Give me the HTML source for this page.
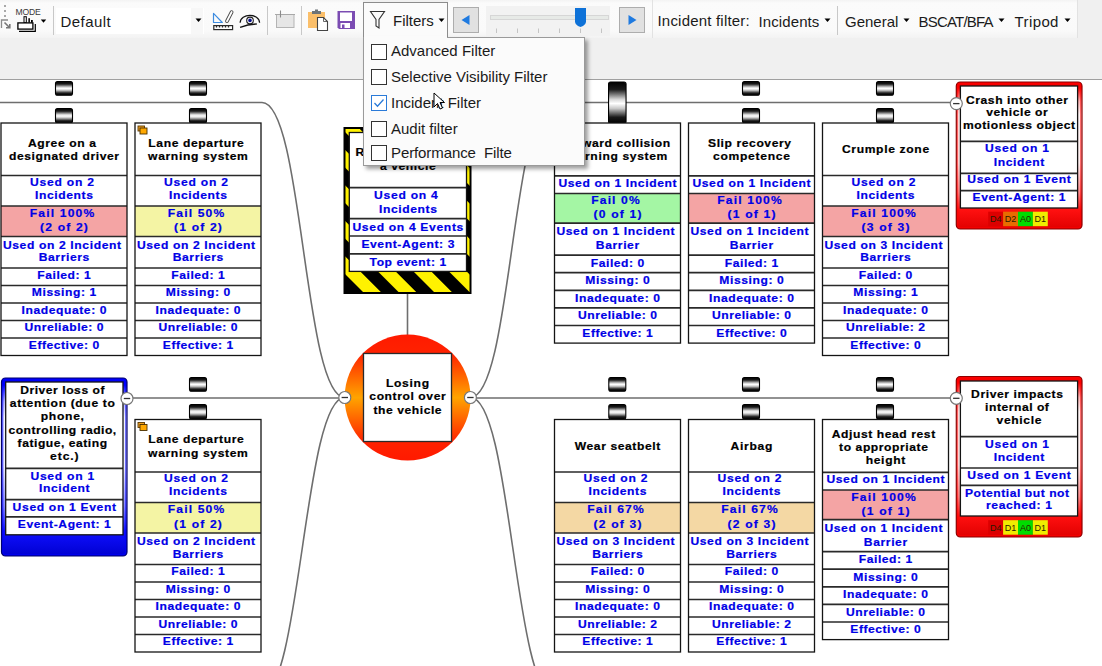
<!DOCTYPE html>
<html><head><meta charset="utf-8"><style>
html,body{margin:0;padding:0;width:1102px;height:666px;overflow:hidden;background:#fff;font-family:"Liberation Sans",sans-serif}
#tb{position:absolute;left:0;top:0;width:1102px;height:80px;background:#f0f0f0;border-bottom:1px solid #a0a0a0;box-sizing:border-box}
.abs{position:absolute}
.t15{font-size:15px;color:#1a1a1a;white-space:nowrap;line-height:17px}
.strip{position:absolute;top:0;height:38px;background:linear-gradient(#f3f3f3 0px,#fbfbfb 3px,#fafafa 30px,#f3f3f3 38px)}
.cb{position:absolute;left:371px;width:16px;height:16px;box-sizing:border-box;border:1px solid #333;background:#fff}
</style></head><body>

<div id="tb">
 <div class="strip" style="left:0;width:363px"></div>
 <div class="strip" style="left:448px;width:204px"></div>
 <div class="strip" style="left:652px;width:424px;border-left:1px solid #e2e2e2;border-right:1px solid #e2e2e2"></div>
 <!-- grip -->
 <div class="abs" style="left:4px;top:4.5px;width:2px;height:2px;background:#a8a8a8"></div>
 <div class="abs" style="left:4px;top:9.5px;width:2px;height:2px;background:#a8a8a8"></div>
 <div class="abs" style="left:4px;top:14.5px;width:2px;height:2px;background:#a8a8a8"></div>
 <svg class="abs" style="left:0;top:18px" width="12" height="12"><path d="M1.5,10 V2 H8" fill="none" stroke="#8a8a8a" stroke-width="1.3"/><path d="M4.5,4.5 L9.5,9.5 M6,9.8 H9.8 V6" fill="none" stroke="#777" stroke-width="1.6"/></svg>
 <div class="abs" style="left:15.5px;top:5.7px;font-size:8.6px;line-height:10px;color:#383838;letter-spacing:-0.15px;transform:scaleY(1.12);transform-origin:0 0">MODE</div>
 <svg class="abs" style="left:0;top:0" width="52" height="38">
  <rect x="24" y="16.7" width="2.3" height="6" fill="#fff" stroke="#000" stroke-width="1"/>
  <rect x="28.4" y="18.2" width="1.5" height="4.5" fill="#000"/>
  <rect x="31" y="20" width="1.8" height="2.7" fill="#000"/>
  <path d="M35.3,24 V31.3 H19" fill="none" stroke="#000" stroke-width="1.2"/>
  <rect x="17.9" y="22.9" width="15" height="6.2" fill="#fff" stroke="#000" stroke-width="1.3"/>
  <path d="M40.8,19.5 L46.2,19.5 L43.5,22.7 Z" fill="#000"/>
 </svg>
 <div class="abs" style="left:53px;top:6px;width:1px;height:29px;background:#c8c8c8"></div>
 <!-- combo -->
 <div class="abs" style="left:55.5px;top:7.5px;width:148px;height:26px;background:#fff"></div>
 <div class="abs" style="left:191px;top:7.5px;width:12px;height:26px;background:#f7f7f7"></div>
 <div class="abs t15" style="left:60.5px;top:12.5px;letter-spacing:0.45px">Default</div>
 <svg class="abs" style="left:195px;top:18px" width="8" height="5"><path d="M0.5,0.5 H6.5 L3.5,4 Z" fill="#000"/></svg>
 <!-- ruler/triangle -->
 <svg class="abs" style="left:210px;top:8px" width="26" height="24">
  <path d="M3.5,5.4 V14.5 H12.3 Z" fill="none" stroke="#3d8ce0" stroke-width="1.2" stroke-linejoin="round"/>
  <rect x="-6.5" y="-1.4" width="13" height="2.8" rx="1.4" transform="translate(19.3,8.6) rotate(-62.9)" fill="#fff" stroke="#4a4a4a" stroke-width="0.9"/>
  <rect x="3.8" y="17.6" width="18.8" height="4" fill="#fff" stroke="#2a2a2a" stroke-width="1.2"/>
  <path d="M6.5,17.6 V19.6 M9.5,17.6 V19.6 M12.5,17.6 V19.6 M15.5,17.6 V19.6 M18.5,17.6 V19.6" stroke="#2a2a2a" stroke-width="1.3"/>
 </svg>
 <!-- eye -->
 <svg class="abs" style="left:238px;top:10px" width="24" height="20">
  <path d="M2.1,12.8 C2.5,3 21.2,3 21.6,12.8" fill="none" stroke="#111" stroke-width="1.2"/>
  <circle cx="12" cy="10.4" r="3.3" fill="#fff" stroke="#1a1a1a" stroke-width="1.1"/>
  <circle cx="12" cy="10.4" r="1.8" fill="#0a1088"/>
  <path d="M2.1,17.3 Q10,14.2 18.8,14" fill="none" stroke="#111" stroke-width="1.3"/>
 </svg>
 <div class="abs" style="left:267px;top:5.5px;width:1px;height:29px;background:#c8c8c8"></div>
 <!-- disabled icon -->
 <svg class="abs" style="left:274px;top:9px" width="24" height="22">
  <rect x="2.5" y="5.5" width="17.5" height="13" fill="#e6e6e6" stroke="#b4b4b4" stroke-width="1"/>
  <path d="M1,5.5 H21" stroke="#a8a8a8" stroke-width="1"/><path d="M6.5,1.5 V8.5" stroke="#8a8a8a" stroke-width="1.1"/>
 </svg>
 <div class="abs" style="left:301px;top:5.5px;width:1px;height:29px;background:#c8c8c8"></div>
 <!-- clipboard -->
 <svg class="abs" style="left:306px;top:8px" width="26" height="24">
  <rect x="2" y="4" width="17" height="16" fill="#fbbf6a"/>
  <rect x="6" y="3" width="9" height="3" fill="#6e7478"/>
  <rect x="9" y="1.5" width="3" height="2" fill="#6e7478"/>
  <path d="M11.5,9.5 H17.5 L21.5,13.5 V22.5 H11.5 Z" fill="#fff" stroke="#444" stroke-width="1.1"/>
  <path d="M17.5,9.5 V13.5 H21.5" fill="none" stroke="#444" stroke-width="0.8"/>
 </svg>
 <!-- floppy -->
 <svg class="abs" style="left:336px;top:10px" width="20" height="20">
  <path d="M1.5,1 H19 V19 H3 L1.5,17.5 Z" fill="#7b4cb2"/>
  <rect x="4" y="2.5" width="12" height="8.5" fill="#fff"/>
  <rect x="4.5" y="13" width="9.5" height="5" fill="#fff"/>
  <rect x="6" y="14.5" width="2.5" height="3.5" fill="#7b4cb2"/>
 </svg>
 <!-- filters button -->
 <div class="abs" style="left:363px;top:2px;width:83px;height:40px;background:#fbfbfb;border:1px solid #8c8c8c;border-bottom:none"></div>
 <svg class="abs" style="left:369px;top:10px" width="18" height="20">
  <path d="M1.5,1.5 H15.5 L10,9.5 V18 L7,16 V9.5 Z" fill="none" stroke="#333" stroke-width="1.1"/>
 </svg>
 <div class="abs t15" style="left:393px;top:11.5px">Filters</div>
 <svg class="abs" style="left:438px;top:18px" width="8" height="5"><path d="M0.5,0.5 H6.5 L3.5,4 Z" fill="#000"/></svg>
 <!-- slider -->
 <div class="abs" style="left:453px;top:7px;width:24px;height:24px;background:#e1e1e1;border:1px solid #adadad"></div>
 <svg class="abs" style="left:460px;top:14px" width="12" height="12"><path d="M9.5,1 V11 L1.5,6 Z" fill="#1f7ae0"/></svg>
 <div class="abs" style="left:619px;top:7px;width:24px;height:24px;background:#e1e1e1;border:1px solid #adadad"></div>
 <svg class="abs" style="left:627px;top:14px" width="12" height="12"><path d="M1.5,1 V11 L9.5,6 Z" fill="#1f7ae0"/></svg>
 <div class="abs" style="left:486px;top:6px;width:124px;height:30px;background:#f2f2f2"></div>
 <div class="abs" style="left:489.5px;top:15px;width:117px;height:3px;background:#e7eae7;border:1px solid #d6d6d6"></div>
 <svg class="abs" style="left:490px;top:6px" width="120" height="30">
  <path d="M6.5,22.5 V27 M27.5,22.5 V27 M48.5,22.5 V27 M69.5,22.5 V27 M90.5,22.5 V27 M111.5,22.5 V27" stroke="#c4c4c4" stroke-width="1"/>
  <path d="M85,2 H96 V16 Q96,18 93,20 L90.5,21 L88,20 Q85,18 85,16 Z" fill="#0e72d8"/>
 </svg>
 <!-- right strip texts -->
 <div class="abs t15" style="left:657.5px;top:12px;letter-spacing:0.2px">Incident filter:</div>
 <div class="abs t15" style="left:758.5px;top:12.5px;letter-spacing:0.1px">Incidents</div>
 <svg class="abs" style="left:824px;top:18px" width="8" height="5"><path d="M0.5,0.5 H6.5 L3.5,4 Z" fill="#000"/></svg>
 <div class="abs" style="left:837px;top:6px;width:1px;height:29px;background:#c8c8c8"></div>
 <div class="abs t15" style="left:845px;top:12.5px">General</div>
 <svg class="abs" style="left:903px;top:18px" width="8" height="5"><path d="M0.5,0.5 H6.5 L3.5,4 Z" fill="#000"/></svg>
 <div class="abs t15" style="left:918.5px;top:12.5px;letter-spacing:-0.8px">BSCAT/BFA</div>
 <svg class="abs" style="left:998px;top:18px" width="8" height="5"><path d="M0.5,0.5 H6.5 L3.5,4 Z" fill="#000"/></svg>
 <div class="abs t15" style="left:1014.5px;top:12.5px;letter-spacing:0.4px">Tripod</div>
 <svg class="abs" style="left:1064px;top:18px" width="8" height="5"><path d="M0.5,0.5 H6.5 L3.5,4 Z" fill="#000"/></svg>
</div>

<svg width="1102" height="587" viewBox="0 79 1102 587" style="position:absolute;left:0;top:79px;font-family:'Liberation Sans',sans-serif">
<defs>
 <linearGradient id="knob" x1="0" y1="0" x2="0" y2="1">
  <stop offset="0" stop-color="#000"/><stop offset="0.18" stop-color="#1a1a1a"/><stop offset="0.42" stop-color="#d8d8d8"/><stop offset="0.52" stop-color="#fff"/><stop offset="0.64" stop-color="#c8c8c8"/><stop offset="0.85" stop-color="#1a1a1a"/><stop offset="1" stop-color="#000"/>
 </linearGradient>
 <linearGradient id="gte" x1="0" y1="0" x2="0" y2="1">
  <stop offset="0" stop-color="#ff1a00"/><stop offset="0.15" stop-color="#ff2200"/><stop offset="0.5" stop-color="#ffa400"/><stop offset="0.85" stop-color="#ff2200"/><stop offset="1" stop-color="#ff1a00"/>
 </linearGradient>
 <linearGradient id="gred" x1="0" y1="0" x2="0" y2="1">
  <stop offset="0" stop-color="#f00000"/><stop offset="0.04" stop-color="#ff0000"/><stop offset="0.13" stop-color="#ffb0b0"/><stop offset="0.22" stop-color="#fff4f4"/><stop offset="0.55" stop-color="#ffeeee"/><stop offset="0.75" stop-color="#ff8888"/><stop offset="0.87" stop-color="#ff1010"/><stop offset="1" stop-color="#e00000"/>
 </linearGradient>
 <linearGradient id="gblue" x1="0" y1="0" x2="0" y2="1">
  <stop offset="0" stop-color="#0000f0"/><stop offset="0.04" stop-color="#0000ff"/><stop offset="0.13" stop-color="#b0b0ff"/><stop offset="0.22" stop-color="#f4f4ff"/><stop offset="0.5" stop-color="#eeeeff"/><stop offset="0.72" stop-color="#8888ff"/><stop offset="0.86" stop-color="#1010ff"/><stop offset="1" stop-color="#0000d0"/>
 </linearGradient>
 <pattern id="stripes" patternUnits="userSpaceOnUse" width="25.1" height="25.1" patternTransform="translate(17.75,0) rotate(-45)">
  <rect width="25.1" height="25.1" fill="#fff200"/><rect width="12.55" height="25.1" fill="#000"/>
 </pattern>
</defs>
<path d="M0,102.5 H262" stroke="#6e6e6e" stroke-width="1.6" fill="none"/>
<path d="M262,102.5 C303,102.5 303.8,397.5 344.8,397.5" fill="none" stroke="#6e6e6e" stroke-width="1.6"/>
<path d="M127,398 H344.8" stroke="#6e6e6e" stroke-width="1.6" fill="none"/>
<path d="M344.8,397.5 C303.8,397.5 301,697 260,697" fill="none" stroke="#6e6e6e" stroke-width="1.6"/>
<path d="M470.4,397.5 C511.4,397.5 512,102.5 553,102.5" fill="none" stroke="#6e6e6e" stroke-width="1.6"/>
<path d="M553,102.5 H956" stroke="#6e6e6e" stroke-width="1.6" fill="none"/>
<path d="M470.4,398 H956" stroke="#6e6e6e" stroke-width="1.6" fill="none"/>
<path d="M470.4,397.5 C511.4,397.5 514,697 555,697" fill="none" stroke="#6e6e6e" stroke-width="1.6"/>
<path d="M407.5,293 V335" stroke="#6e6e6e" stroke-width="1.6" fill="none"/>
<rect x="55.5" y="81.5" width="17" height="13.700000000000003" rx="2" fill="url(#knob)" stroke="#000" stroke-width="1.1"/>
<rect x="55.5" y="108.5" width="17" height="14.5" rx="2" fill="url(#knob)" stroke="#000" stroke-width="1.1"/>
<rect x="189.5" y="81.5" width="17" height="13.700000000000003" rx="2" fill="url(#knob)" stroke="#000" stroke-width="1.1"/>
<rect x="189.5" y="108.5" width="17" height="14.5" rx="2" fill="url(#knob)" stroke="#000" stroke-width="1.1"/>
<rect x="742.5" y="81.5" width="17" height="13.700000000000003" rx="2" fill="url(#knob)" stroke="#000" stroke-width="1.1"/>
<rect x="742.5" y="108.5" width="17" height="14.5" rx="2" fill="url(#knob)" stroke="#000" stroke-width="1.1"/>
<rect x="876.5" y="81.5" width="17" height="13.700000000000003" rx="2" fill="url(#knob)" stroke="#000" stroke-width="1.1"/>
<rect x="876.5" y="108.5" width="17" height="14.5" rx="2" fill="url(#knob)" stroke="#000" stroke-width="1.1"/>
<rect x="608.55" y="82" width="17.5" height="41.400000000000006" rx="2" fill="url(#knob)" stroke="#000" stroke-width="1.1"/>
<rect x="189.5" y="377.5" width="17" height="13.699999999999989" rx="2" fill="url(#knob)" stroke="#000" stroke-width="1.1"/>
<rect x="189.5" y="404.5" width="17" height="14.5" rx="2" fill="url(#knob)" stroke="#000" stroke-width="1.1"/>
<rect x="608.8" y="377.5" width="17" height="13.699999999999989" rx="2" fill="url(#knob)" stroke="#000" stroke-width="1.1"/>
<rect x="608.8" y="404.5" width="17" height="14.5" rx="2" fill="url(#knob)" stroke="#000" stroke-width="1.1"/>
<rect x="742.5" y="377.5" width="17" height="13.699999999999989" rx="2" fill="url(#knob)" stroke="#000" stroke-width="1.1"/>
<rect x="742.5" y="404.5" width="17" height="14.5" rx="2" fill="url(#knob)" stroke="#000" stroke-width="1.1"/>
<rect x="876.5" y="377.5" width="17" height="13.699999999999989" rx="2" fill="url(#knob)" stroke="#000" stroke-width="1.1"/>
<rect x="876.5" y="404.5" width="17" height="14.5" rx="2" fill="url(#knob)" stroke="#000" stroke-width="1.1"/>
<rect x="1" y="123" width="126" height="232.5" fill="#fff"/>
<rect x="1" y="206.0" width="126" height="30.5" fill="#f4a4a4"/>
<path d="M1,175.5 H127" stroke="#2a2a2a" stroke-width="1.7"/>
<path d="M1,206.0 H127" stroke="#2a2a2a" stroke-width="1.7"/>
<path d="M1,236.5 H127" stroke="#2a2a2a" stroke-width="1.7"/>
<path d="M1,268.0 H127" stroke="#2a2a2a" stroke-width="1.7"/>
<path d="M1,285.5 H127" stroke="#2a2a2a" stroke-width="1.7"/>
<path d="M1,303.0 H127" stroke="#2a2a2a" stroke-width="1.7"/>
<path d="M1,320.5 H127" stroke="#2a2a2a" stroke-width="1.7"/>
<path d="M1,338.0 H127" stroke="#2a2a2a" stroke-width="1.7"/>
<rect x="1" y="123" width="126" height="232.5" fill="none" stroke="#141414" stroke-width="1.3"/>
<text x="62.0" y="146.8" font-size="11" fill="#000" font-weight="bold" text-anchor="middle" transform="matrix(1.1,0,0,1,-6.20,0)" stroke="#000" stroke-width="0.2"  textLength="62.0" lengthAdjust="spacing">Agree on a</text>
<text x="64.0" y="160.5" font-size="11" fill="#000" font-weight="bold" text-anchor="middle" transform="matrix(1.1,0,0,1,-6.40,0)" stroke="#000" stroke-width="0.2"  textLength="100.0" lengthAdjust="spacing">designated driver</text>
<text x="62.0" y="185.7" font-size="11" fill="#0000e6" font-weight="bold" text-anchor="middle" transform="matrix(1.1,0,0,1,-6.20,0)" stroke="#0000e6" stroke-width="0.2"  textLength="58.1" lengthAdjust="spacing">Used on 2</text>
<text x="64.0" y="198.8" font-size="11" fill="#0000e6" font-weight="bold" text-anchor="middle" transform="matrix(1.1,0,0,1,-6.40,0)" stroke="#0000e6" stroke-width="0.2"  textLength="52.7" lengthAdjust="spacing">Incidents</text>
<text x="62.0" y="216.9" font-size="11" fill="#0000e6" font-weight="bold" text-anchor="middle" transform="matrix(1.1,0,0,1,-6.20,0)" stroke="#0000e6" stroke-width="0.2"  textLength="58.7" lengthAdjust="spacing">Fail 100%</text>
<text x="64.0" y="231.2" font-size="11" fill="#0000e6" font-weight="bold" text-anchor="middle" transform="matrix(1.1,0,0,1,-6.40,0)" stroke="#0000e6" stroke-width="0.2"  textLength="43.5" lengthAdjust="spacing">(2 of 2)</text>
<text x="62.0" y="248.6" font-size="11" fill="#0000e6" font-weight="bold" text-anchor="middle" transform="matrix(1.1,0,0,1,-6.20,0)" stroke="#0000e6" stroke-width="0.2"  textLength="107.4" lengthAdjust="spacing">Used on 2 Incident</text>
<text x="64.0" y="261.1" font-size="11" fill="#0000e6" font-weight="bold" text-anchor="middle" transform="matrix(1.1,0,0,1,-6.40,0)" stroke="#0000e6" stroke-width="0.2"  textLength="46.0" lengthAdjust="spacing">Barriers</text>
<text x="64.0" y="279.0" font-size="11" fill="#0000e6" font-weight="bold" text-anchor="middle" transform="matrix(1.1,0,0,1,-6.40,0)" stroke="#0000e6" stroke-width="0.2"  textLength="48.5" lengthAdjust="spacing">Failed: 1</text>
<text x="64.0" y="296.45" font-size="11" fill="#0000e6" font-weight="bold" text-anchor="middle" transform="matrix(1.1,0,0,1,-6.40,0)" stroke="#0000e6" stroke-width="0.2"  textLength="58.5" lengthAdjust="spacing">Missing: 1</text>
<text x="64.0" y="313.9" font-size="11" fill="#0000e6" font-weight="bold" text-anchor="middle" transform="matrix(1.1,0,0,1,-6.40,0)" stroke="#0000e6" stroke-width="0.2"  textLength="77.2" lengthAdjust="spacing">Inadequate: 0</text>
<text x="64.0" y="331.35" font-size="11" fill="#0000e6" font-weight="bold" text-anchor="middle" transform="matrix(1.1,0,0,1,-6.40,0)" stroke="#0000e6" stroke-width="0.2"  textLength="71.9" lengthAdjust="spacing">Unreliable: 0</text>
<text x="64.0" y="348.8" font-size="11" fill="#0000e6" font-weight="bold" text-anchor="middle" transform="matrix(1.1,0,0,1,-6.40,0)" stroke="#0000e6" stroke-width="0.2"  textLength="63.9" lengthAdjust="spacing">Effective: 0</text>
<rect x="135" y="123" width="126" height="232.5" fill="#fff"/>
<rect x="135" y="206.0" width="126" height="30.5" fill="#f4f4a4"/>
<path d="M135,175.5 H261" stroke="#2a2a2a" stroke-width="1.7"/>
<path d="M135,206.0 H261" stroke="#2a2a2a" stroke-width="1.7"/>
<path d="M135,236.5 H261" stroke="#2a2a2a" stroke-width="1.7"/>
<path d="M135,268.0 H261" stroke="#2a2a2a" stroke-width="1.7"/>
<path d="M135,285.5 H261" stroke="#2a2a2a" stroke-width="1.7"/>
<path d="M135,303.0 H261" stroke="#2a2a2a" stroke-width="1.7"/>
<path d="M135,320.5 H261" stroke="#2a2a2a" stroke-width="1.7"/>
<path d="M135,338.0 H261" stroke="#2a2a2a" stroke-width="1.7"/>
<rect x="135" y="123" width="126" height="232.5" fill="none" stroke="#141414" stroke-width="1.3"/>
<text x="196.0" y="146.8" font-size="11" fill="#000" font-weight="bold" text-anchor="middle" transform="matrix(1.1,0,0,1,-19.60,0)" stroke="#000" stroke-width="0.2"  textLength="86.7" lengthAdjust="spacing">Lane departure</text>
<text x="198.0" y="160.5" font-size="11" fill="#000" font-weight="bold" text-anchor="middle" transform="matrix(1.1,0,0,1,-19.80,0)" stroke="#000" stroke-width="0.2"  textLength="90.7" lengthAdjust="spacing">warning system</text>
<rect x="138" y="126" width="6.5" height="5" fill="#f0a020" stroke="#5a3800" stroke-width="0.9"/>
<rect x="140" y="128" width="7" height="6" fill="#ffa800" stroke="#4a3000" stroke-width="0.9"/>
<text x="196.0" y="185.7" font-size="11" fill="#0000e6" font-weight="bold" text-anchor="middle" transform="matrix(1.1,0,0,1,-19.60,0)" stroke="#0000e6" stroke-width="0.2"  textLength="58.1" lengthAdjust="spacing">Used on 2</text>
<text x="198.0" y="198.8" font-size="11" fill="#0000e6" font-weight="bold" text-anchor="middle" transform="matrix(1.1,0,0,1,-19.80,0)" stroke="#0000e6" stroke-width="0.2"  textLength="52.7" lengthAdjust="spacing">Incidents</text>
<text x="196.0" y="216.9" font-size="11" fill="#0000e6" font-weight="bold" text-anchor="middle" transform="matrix(1.1,0,0,1,-19.60,0)" stroke="#0000e6" stroke-width="0.2"  textLength="51.3" lengthAdjust="spacing">Fail 50%</text>
<text x="198.0" y="231.2" font-size="11" fill="#0000e6" font-weight="bold" text-anchor="middle" transform="matrix(1.1,0,0,1,-19.80,0)" stroke="#0000e6" stroke-width="0.2"  textLength="43.5" lengthAdjust="spacing">(1 of 2)</text>
<text x="196.0" y="248.6" font-size="11" fill="#0000e6" font-weight="bold" text-anchor="middle" transform="matrix(1.1,0,0,1,-19.60,0)" stroke="#0000e6" stroke-width="0.2"  textLength="107.4" lengthAdjust="spacing">Used on 2 Incident</text>
<text x="198.0" y="261.1" font-size="11" fill="#0000e6" font-weight="bold" text-anchor="middle" transform="matrix(1.1,0,0,1,-19.80,0)" stroke="#0000e6" stroke-width="0.2"  textLength="46.0" lengthAdjust="spacing">Barriers</text>
<text x="198.0" y="279.0" font-size="11" fill="#0000e6" font-weight="bold" text-anchor="middle" transform="matrix(1.1,0,0,1,-19.80,0)" stroke="#0000e6" stroke-width="0.2"  textLength="48.5" lengthAdjust="spacing">Failed: 1</text>
<text x="198.0" y="296.45" font-size="11" fill="#0000e6" font-weight="bold" text-anchor="middle" transform="matrix(1.1,0,0,1,-19.80,0)" stroke="#0000e6" stroke-width="0.2"  textLength="58.5" lengthAdjust="spacing">Missing: 0</text>
<text x="198.0" y="313.9" font-size="11" fill="#0000e6" font-weight="bold" text-anchor="middle" transform="matrix(1.1,0,0,1,-19.80,0)" stroke="#0000e6" stroke-width="0.2"  textLength="77.2" lengthAdjust="spacing">Inadequate: 0</text>
<text x="198.0" y="331.35" font-size="11" fill="#0000e6" font-weight="bold" text-anchor="middle" transform="matrix(1.1,0,0,1,-19.80,0)" stroke="#0000e6" stroke-width="0.2"  textLength="71.9" lengthAdjust="spacing">Unreliable: 0</text>
<text x="198.0" y="348.8" font-size="11" fill="#0000e6" font-weight="bold" text-anchor="middle" transform="matrix(1.1,0,0,1,-19.80,0)" stroke="#0000e6" stroke-width="0.2"  textLength="63.9" lengthAdjust="spacing">Effective: 1</text>
<rect x="554.5" y="123" width="126" height="220.10000000000008" fill="#fff"/>
<rect x="554.5" y="193.5" width="126" height="29.69999999999999" fill="#a4f6a4"/>
<path d="M554.5,175.8 H680.5" stroke="#2a2a2a" stroke-width="1.7"/>
<path d="M554.5,193.5 H680.5" stroke="#2a2a2a" stroke-width="1.7"/>
<path d="M554.5,223.2 H680.5" stroke="#2a2a2a" stroke-width="1.7"/>
<path d="M554.5,255.1 H680.5" stroke="#2a2a2a" stroke-width="1.7"/>
<path d="M554.5,272.7 H680.5" stroke="#2a2a2a" stroke-width="1.7"/>
<path d="M554.5,290.3 H680.5" stroke="#2a2a2a" stroke-width="1.7"/>
<path d="M554.5,307.90000000000003 H680.5" stroke="#2a2a2a" stroke-width="1.7"/>
<path d="M554.5,325.50000000000006 H680.5" stroke="#2a2a2a" stroke-width="1.7"/>
<rect x="554.5" y="123" width="126" height="220.10000000000008" fill="none" stroke="#141414" stroke-width="1.3"/>
<text x="615.5" y="146.8" font-size="11" fill="#000" font-weight="bold" text-anchor="middle" transform="matrix(1.1,0,0,1,-61.55,0)" stroke="#000" stroke-width="0.2"  textLength="99.4" lengthAdjust="spacing">Forward collision</text>
<text x="617.5" y="160.5" font-size="11" fill="#000" font-weight="bold" text-anchor="middle" transform="matrix(1.1,0,0,1,-61.75,0)" stroke="#000" stroke-width="0.2"  textLength="90.7" lengthAdjust="spacing">warning system</text>
<text x="617.5" y="186.6" font-size="11" fill="#0000e6" font-weight="bold" text-anchor="middle" transform="matrix(1.1,0,0,1,-61.75,0)" stroke="#0000e6" stroke-width="0.2"  textLength="107.4" lengthAdjust="spacing">Used on 1 Incident</text>
<text x="615.5" y="204.4" font-size="11" fill="#0000e6" font-weight="bold" text-anchor="middle" transform="matrix(1.1,0,0,1,-61.55,0)" stroke="#0000e6" stroke-width="0.2"  textLength="43.9" lengthAdjust="spacing">Fail 0%</text>
<text x="617.5" y="218.1" font-size="11" fill="#0000e6" font-weight="bold" text-anchor="middle" transform="matrix(1.1,0,0,1,-61.75,0)" stroke="#0000e6" stroke-width="0.2"  textLength="43.5" lengthAdjust="spacing">(0 of 1)</text>
<text x="615.5" y="235.2" font-size="11" fill="#0000e6" font-weight="bold" text-anchor="middle" transform="matrix(1.1,0,0,1,-61.55,0)" stroke="#0000e6" stroke-width="0.2"  textLength="107.4" lengthAdjust="spacing">Used on 1 Incident</text>
<text x="617.5" y="249.3" font-size="11" fill="#0000e6" font-weight="bold" text-anchor="middle" transform="matrix(1.1,0,0,1,-61.75,0)" stroke="#0000e6" stroke-width="0.2"  textLength="39.4" lengthAdjust="spacing">Barrier</text>
<text x="617.5" y="266.6" font-size="11" fill="#0000e6" font-weight="bold" text-anchor="middle" transform="matrix(1.1,0,0,1,-61.75,0)" stroke="#0000e6" stroke-width="0.2"  textLength="48.5" lengthAdjust="spacing">Failed: 0</text>
<text x="617.5" y="284.1" font-size="11" fill="#0000e6" font-weight="bold" text-anchor="middle" transform="matrix(1.1,0,0,1,-61.75,0)" stroke="#0000e6" stroke-width="0.2"  textLength="58.5" lengthAdjust="spacing">Missing: 0</text>
<text x="617.5" y="301.6" font-size="11" fill="#0000e6" font-weight="bold" text-anchor="middle" transform="matrix(1.1,0,0,1,-61.75,0)" stroke="#0000e6" stroke-width="0.2"  textLength="77.2" lengthAdjust="spacing">Inadequate: 0</text>
<text x="617.5" y="319.1" font-size="11" fill="#0000e6" font-weight="bold" text-anchor="middle" transform="matrix(1.1,0,0,1,-61.75,0)" stroke="#0000e6" stroke-width="0.2"  textLength="71.9" lengthAdjust="spacing">Unreliable: 0</text>
<text x="617.5" y="336.6" font-size="11" fill="#0000e6" font-weight="bold" text-anchor="middle" transform="matrix(1.1,0,0,1,-61.75,0)" stroke="#0000e6" stroke-width="0.2"  textLength="63.9" lengthAdjust="spacing">Effective: 1</text>
<rect x="688.5" y="123" width="126" height="220.10000000000008" fill="#fff"/>
<rect x="688.5" y="193.5" width="126" height="29.69999999999999" fill="#f4a4a4"/>
<path d="M688.5,175.8 H814.5" stroke="#2a2a2a" stroke-width="1.7"/>
<path d="M688.5,193.5 H814.5" stroke="#2a2a2a" stroke-width="1.7"/>
<path d="M688.5,223.2 H814.5" stroke="#2a2a2a" stroke-width="1.7"/>
<path d="M688.5,255.1 H814.5" stroke="#2a2a2a" stroke-width="1.7"/>
<path d="M688.5,272.7 H814.5" stroke="#2a2a2a" stroke-width="1.7"/>
<path d="M688.5,290.3 H814.5" stroke="#2a2a2a" stroke-width="1.7"/>
<path d="M688.5,307.90000000000003 H814.5" stroke="#2a2a2a" stroke-width="1.7"/>
<path d="M688.5,325.50000000000006 H814.5" stroke="#2a2a2a" stroke-width="1.7"/>
<rect x="688.5" y="123" width="126" height="220.10000000000008" fill="none" stroke="#141414" stroke-width="1.3"/>
<text x="749.5" y="146.8" font-size="11" fill="#000" font-weight="bold" text-anchor="middle" transform="matrix(1.1,0,0,1,-74.95,0)" stroke="#000" stroke-width="0.2"  textLength="75.4" lengthAdjust="spacing">Slip recovery</text>
<text x="751.5" y="160.5" font-size="11" fill="#000" font-weight="bold" text-anchor="middle" transform="matrix(1.1,0,0,1,-75.15,0)" stroke="#000" stroke-width="0.2"  textLength="70.0" lengthAdjust="spacing">competence</text>
<text x="751.5" y="186.6" font-size="11" fill="#0000e6" font-weight="bold" text-anchor="middle" transform="matrix(1.1,0,0,1,-75.15,0)" stroke="#0000e6" stroke-width="0.2"  textLength="107.4" lengthAdjust="spacing">Used on 1 Incident</text>
<text x="749.5" y="204.4" font-size="11" fill="#0000e6" font-weight="bold" text-anchor="middle" transform="matrix(1.1,0,0,1,-74.95,0)" stroke="#0000e6" stroke-width="0.2"  textLength="58.7" lengthAdjust="spacing">Fail 100%</text>
<text x="751.5" y="218.1" font-size="11" fill="#0000e6" font-weight="bold" text-anchor="middle" transform="matrix(1.1,0,0,1,-75.15,0)" stroke="#0000e6" stroke-width="0.2"  textLength="43.5" lengthAdjust="spacing">(1 of 1)</text>
<text x="749.5" y="235.2" font-size="11" fill="#0000e6" font-weight="bold" text-anchor="middle" transform="matrix(1.1,0,0,1,-74.95,0)" stroke="#0000e6" stroke-width="0.2"  textLength="107.4" lengthAdjust="spacing">Used on 1 Incident</text>
<text x="751.5" y="249.3" font-size="11" fill="#0000e6" font-weight="bold" text-anchor="middle" transform="matrix(1.1,0,0,1,-75.15,0)" stroke="#0000e6" stroke-width="0.2"  textLength="39.4" lengthAdjust="spacing">Barrier</text>
<text x="751.5" y="266.6" font-size="11" fill="#0000e6" font-weight="bold" text-anchor="middle" transform="matrix(1.1,0,0,1,-75.15,0)" stroke="#0000e6" stroke-width="0.2"  textLength="48.5" lengthAdjust="spacing">Failed: 1</text>
<text x="751.5" y="284.1" font-size="11" fill="#0000e6" font-weight="bold" text-anchor="middle" transform="matrix(1.1,0,0,1,-75.15,0)" stroke="#0000e6" stroke-width="0.2"  textLength="58.5" lengthAdjust="spacing">Missing: 0</text>
<text x="751.5" y="301.6" font-size="11" fill="#0000e6" font-weight="bold" text-anchor="middle" transform="matrix(1.1,0,0,1,-75.15,0)" stroke="#0000e6" stroke-width="0.2"  textLength="77.2" lengthAdjust="spacing">Inadequate: 0</text>
<text x="751.5" y="319.1" font-size="11" fill="#0000e6" font-weight="bold" text-anchor="middle" transform="matrix(1.1,0,0,1,-75.15,0)" stroke="#0000e6" stroke-width="0.2"  textLength="71.9" lengthAdjust="spacing">Unreliable: 0</text>
<text x="751.5" y="336.6" font-size="11" fill="#0000e6" font-weight="bold" text-anchor="middle" transform="matrix(1.1,0,0,1,-75.15,0)" stroke="#0000e6" stroke-width="0.2"  textLength="63.9" lengthAdjust="spacing">Effective: 0</text>
<rect x="822.5" y="123" width="126" height="232.5" fill="#fff"/>
<rect x="822.5" y="206.0" width="126" height="30.5" fill="#f4a4a4"/>
<path d="M822.5,175.5 H948.5" stroke="#2a2a2a" stroke-width="1.7"/>
<path d="M822.5,206.0 H948.5" stroke="#2a2a2a" stroke-width="1.7"/>
<path d="M822.5,236.5 H948.5" stroke="#2a2a2a" stroke-width="1.7"/>
<path d="M822.5,268.0 H948.5" stroke="#2a2a2a" stroke-width="1.7"/>
<path d="M822.5,285.5 H948.5" stroke="#2a2a2a" stroke-width="1.7"/>
<path d="M822.5,303.0 H948.5" stroke="#2a2a2a" stroke-width="1.7"/>
<path d="M822.5,320.5 H948.5" stroke="#2a2a2a" stroke-width="1.7"/>
<path d="M822.5,338.0 H948.5" stroke="#2a2a2a" stroke-width="1.7"/>
<rect x="822.5" y="123" width="126" height="232.5" fill="none" stroke="#141414" stroke-width="1.3"/>
<text x="885.5" y="153.5" font-size="11" fill="#000" font-weight="bold" text-anchor="middle" transform="matrix(1.1,0,0,1,-88.55,0)" stroke="#000" stroke-width="0.2"  textLength="79.3" lengthAdjust="spacing">Crumple zone</text>
<text x="883.5" y="185.7" font-size="11" fill="#0000e6" font-weight="bold" text-anchor="middle" transform="matrix(1.1,0,0,1,-88.35,0)" stroke="#0000e6" stroke-width="0.2"  textLength="58.1" lengthAdjust="spacing">Used on 2</text>
<text x="885.5" y="198.8" font-size="11" fill="#0000e6" font-weight="bold" text-anchor="middle" transform="matrix(1.1,0,0,1,-88.55,0)" stroke="#0000e6" stroke-width="0.2"  textLength="52.7" lengthAdjust="spacing">Incidents</text>
<text x="883.5" y="216.9" font-size="11" fill="#0000e6" font-weight="bold" text-anchor="middle" transform="matrix(1.1,0,0,1,-88.35,0)" stroke="#0000e6" stroke-width="0.2"  textLength="58.7" lengthAdjust="spacing">Fail 100%</text>
<text x="885.5" y="231.2" font-size="11" fill="#0000e6" font-weight="bold" text-anchor="middle" transform="matrix(1.1,0,0,1,-88.55,0)" stroke="#0000e6" stroke-width="0.2"  textLength="43.5" lengthAdjust="spacing">(3 of 3)</text>
<text x="883.5" y="248.6" font-size="11" fill="#0000e6" font-weight="bold" text-anchor="middle" transform="matrix(1.1,0,0,1,-88.35,0)" stroke="#0000e6" stroke-width="0.2"  textLength="107.4" lengthAdjust="spacing">Used on 3 Incident</text>
<text x="885.5" y="261.1" font-size="11" fill="#0000e6" font-weight="bold" text-anchor="middle" transform="matrix(1.1,0,0,1,-88.55,0)" stroke="#0000e6" stroke-width="0.2"  textLength="46.0" lengthAdjust="spacing">Barriers</text>
<text x="885.5" y="279.0" font-size="11" fill="#0000e6" font-weight="bold" text-anchor="middle" transform="matrix(1.1,0,0,1,-88.55,0)" stroke="#0000e6" stroke-width="0.2"  textLength="48.5" lengthAdjust="spacing">Failed: 0</text>
<text x="885.5" y="296.45" font-size="11" fill="#0000e6" font-weight="bold" text-anchor="middle" transform="matrix(1.1,0,0,1,-88.55,0)" stroke="#0000e6" stroke-width="0.2"  textLength="58.5" lengthAdjust="spacing">Missing: 1</text>
<text x="885.5" y="313.9" font-size="11" fill="#0000e6" font-weight="bold" text-anchor="middle" transform="matrix(1.1,0,0,1,-88.55,0)" stroke="#0000e6" stroke-width="0.2"  textLength="77.2" lengthAdjust="spacing">Inadequate: 0</text>
<text x="885.5" y="331.35" font-size="11" fill="#0000e6" font-weight="bold" text-anchor="middle" transform="matrix(1.1,0,0,1,-88.55,0)" stroke="#0000e6" stroke-width="0.2"  textLength="71.9" lengthAdjust="spacing">Unreliable: 2</text>
<text x="885.5" y="348.8" font-size="11" fill="#0000e6" font-weight="bold" text-anchor="middle" transform="matrix(1.1,0,0,1,-88.55,0)" stroke="#0000e6" stroke-width="0.2"  textLength="63.9" lengthAdjust="spacing">Effective: 0</text>
<rect x="135" y="419.5" width="126" height="232.5" fill="#fff"/>
<rect x="135" y="502.5" width="126" height="30.5" fill="#f4f4a4"/>
<path d="M135,472.0 H261" stroke="#2a2a2a" stroke-width="1.7"/>
<path d="M135,502.5 H261" stroke="#2a2a2a" stroke-width="1.7"/>
<path d="M135,533.0 H261" stroke="#2a2a2a" stroke-width="1.7"/>
<path d="M135,564.5 H261" stroke="#2a2a2a" stroke-width="1.7"/>
<path d="M135,582.0 H261" stroke="#2a2a2a" stroke-width="1.7"/>
<path d="M135,599.5 H261" stroke="#2a2a2a" stroke-width="1.7"/>
<path d="M135,617.0 H261" stroke="#2a2a2a" stroke-width="1.7"/>
<path d="M135,634.5 H261" stroke="#2a2a2a" stroke-width="1.7"/>
<rect x="135" y="419.5" width="126" height="232.5" fill="none" stroke="#141414" stroke-width="1.3"/>
<text x="196.0" y="443.3" font-size="11" fill="#000" font-weight="bold" text-anchor="middle" transform="matrix(1.1,0,0,1,-19.60,0)" stroke="#000" stroke-width="0.2"  textLength="86.7" lengthAdjust="spacing">Lane departure</text>
<text x="198.0" y="457.0" font-size="11" fill="#000" font-weight="bold" text-anchor="middle" transform="matrix(1.1,0,0,1,-19.80,0)" stroke="#000" stroke-width="0.2"  textLength="90.7" lengthAdjust="spacing">warning system</text>
<rect x="138" y="422.5" width="6.5" height="5" fill="#f0a020" stroke="#5a3800" stroke-width="0.9"/>
<rect x="140" y="424.5" width="7" height="6" fill="#ffa800" stroke="#4a3000" stroke-width="0.9"/>
<text x="196.0" y="482.2" font-size="11" fill="#0000e6" font-weight="bold" text-anchor="middle" transform="matrix(1.1,0,0,1,-19.60,0)" stroke="#0000e6" stroke-width="0.2"  textLength="58.1" lengthAdjust="spacing">Used on 2</text>
<text x="198.0" y="495.3" font-size="11" fill="#0000e6" font-weight="bold" text-anchor="middle" transform="matrix(1.1,0,0,1,-19.80,0)" stroke="#0000e6" stroke-width="0.2"  textLength="52.7" lengthAdjust="spacing">Incidents</text>
<text x="196.0" y="513.4" font-size="11" fill="#0000e6" font-weight="bold" text-anchor="middle" transform="matrix(1.1,0,0,1,-19.60,0)" stroke="#0000e6" stroke-width="0.2"  textLength="51.3" lengthAdjust="spacing">Fail 50%</text>
<text x="198.0" y="527.7" font-size="11" fill="#0000e6" font-weight="bold" text-anchor="middle" transform="matrix(1.1,0,0,1,-19.80,0)" stroke="#0000e6" stroke-width="0.2"  textLength="43.5" lengthAdjust="spacing">(1 of 2)</text>
<text x="196.0" y="545.1" font-size="11" fill="#0000e6" font-weight="bold" text-anchor="middle" transform="matrix(1.1,0,0,1,-19.60,0)" stroke="#0000e6" stroke-width="0.2"  textLength="107.4" lengthAdjust="spacing">Used on 2 Incident</text>
<text x="198.0" y="557.6" font-size="11" fill="#0000e6" font-weight="bold" text-anchor="middle" transform="matrix(1.1,0,0,1,-19.80,0)" stroke="#0000e6" stroke-width="0.2"  textLength="46.0" lengthAdjust="spacing">Barriers</text>
<text x="198.0" y="575.5" font-size="11" fill="#0000e6" font-weight="bold" text-anchor="middle" transform="matrix(1.1,0,0,1,-19.80,0)" stroke="#0000e6" stroke-width="0.2"  textLength="48.5" lengthAdjust="spacing">Failed: 1</text>
<text x="198.0" y="592.95" font-size="11" fill="#0000e6" font-weight="bold" text-anchor="middle" transform="matrix(1.1,0,0,1,-19.80,0)" stroke="#0000e6" stroke-width="0.2"  textLength="58.5" lengthAdjust="spacing">Missing: 0</text>
<text x="198.0" y="610.4" font-size="11" fill="#0000e6" font-weight="bold" text-anchor="middle" transform="matrix(1.1,0,0,1,-19.80,0)" stroke="#0000e6" stroke-width="0.2"  textLength="77.2" lengthAdjust="spacing">Inadequate: 0</text>
<text x="198.0" y="627.85" font-size="11" fill="#0000e6" font-weight="bold" text-anchor="middle" transform="matrix(1.1,0,0,1,-19.80,0)" stroke="#0000e6" stroke-width="0.2"  textLength="71.9" lengthAdjust="spacing">Unreliable: 0</text>
<text x="198.0" y="645.3" font-size="11" fill="#0000e6" font-weight="bold" text-anchor="middle" transform="matrix(1.1,0,0,1,-19.80,0)" stroke="#0000e6" stroke-width="0.2"  textLength="63.9" lengthAdjust="spacing">Effective: 1</text>
<rect x="554.5" y="419.5" width="126" height="232.5" fill="#fff"/>
<rect x="554.5" y="502.5" width="126" height="30.5" fill="#f4d8a4"/>
<path d="M554.5,472.0 H680.5" stroke="#2a2a2a" stroke-width="1.7"/>
<path d="M554.5,502.5 H680.5" stroke="#2a2a2a" stroke-width="1.7"/>
<path d="M554.5,533.0 H680.5" stroke="#2a2a2a" stroke-width="1.7"/>
<path d="M554.5,564.5 H680.5" stroke="#2a2a2a" stroke-width="1.7"/>
<path d="M554.5,582.0 H680.5" stroke="#2a2a2a" stroke-width="1.7"/>
<path d="M554.5,599.5 H680.5" stroke="#2a2a2a" stroke-width="1.7"/>
<path d="M554.5,617.0 H680.5" stroke="#2a2a2a" stroke-width="1.7"/>
<path d="M554.5,634.5 H680.5" stroke="#2a2a2a" stroke-width="1.7"/>
<rect x="554.5" y="419.5" width="126" height="232.5" fill="none" stroke="#141414" stroke-width="1.3"/>
<text x="617.5" y="450.0" font-size="11" fill="#000" font-weight="bold" text-anchor="middle" transform="matrix(1.1,0,0,1,-61.75,0)" stroke="#000" stroke-width="0.2"  textLength="77.8" lengthAdjust="spacing">Wear seatbelt</text>
<text x="615.5" y="482.2" font-size="11" fill="#0000e6" font-weight="bold" text-anchor="middle" transform="matrix(1.1,0,0,1,-61.55,0)" stroke="#0000e6" stroke-width="0.2"  textLength="58.1" lengthAdjust="spacing">Used on 2</text>
<text x="617.5" y="495.3" font-size="11" fill="#0000e6" font-weight="bold" text-anchor="middle" transform="matrix(1.1,0,0,1,-61.75,0)" stroke="#0000e6" stroke-width="0.2"  textLength="52.7" lengthAdjust="spacing">Incidents</text>
<text x="615.5" y="513.4" font-size="11" fill="#0000e6" font-weight="bold" text-anchor="middle" transform="matrix(1.1,0,0,1,-61.55,0)" stroke="#0000e6" stroke-width="0.2"  textLength="51.3" lengthAdjust="spacing">Fail 67%</text>
<text x="617.5" y="527.7" font-size="11" fill="#0000e6" font-weight="bold" text-anchor="middle" transform="matrix(1.1,0,0,1,-61.75,0)" stroke="#0000e6" stroke-width="0.2"  textLength="43.5" lengthAdjust="spacing">(2 of 3)</text>
<text x="615.5" y="545.1" font-size="11" fill="#0000e6" font-weight="bold" text-anchor="middle" transform="matrix(1.1,0,0,1,-61.55,0)" stroke="#0000e6" stroke-width="0.2"  textLength="107.4" lengthAdjust="spacing">Used on 3 Incident</text>
<text x="617.5" y="557.6" font-size="11" fill="#0000e6" font-weight="bold" text-anchor="middle" transform="matrix(1.1,0,0,1,-61.75,0)" stroke="#0000e6" stroke-width="0.2"  textLength="46.0" lengthAdjust="spacing">Barriers</text>
<text x="617.5" y="575.5" font-size="11" fill="#0000e6" font-weight="bold" text-anchor="middle" transform="matrix(1.1,0,0,1,-61.75,0)" stroke="#0000e6" stroke-width="0.2"  textLength="48.5" lengthAdjust="spacing">Failed: 0</text>
<text x="617.5" y="592.95" font-size="11" fill="#0000e6" font-weight="bold" text-anchor="middle" transform="matrix(1.1,0,0,1,-61.75,0)" stroke="#0000e6" stroke-width="0.2"  textLength="58.5" lengthAdjust="spacing">Missing: 0</text>
<text x="617.5" y="610.4" font-size="11" fill="#0000e6" font-weight="bold" text-anchor="middle" transform="matrix(1.1,0,0,1,-61.75,0)" stroke="#0000e6" stroke-width="0.2"  textLength="77.2" lengthAdjust="spacing">Inadequate: 0</text>
<text x="617.5" y="627.85" font-size="11" fill="#0000e6" font-weight="bold" text-anchor="middle" transform="matrix(1.1,0,0,1,-61.75,0)" stroke="#0000e6" stroke-width="0.2"  textLength="71.9" lengthAdjust="spacing">Unreliable: 2</text>
<text x="617.5" y="645.3" font-size="11" fill="#0000e6" font-weight="bold" text-anchor="middle" transform="matrix(1.1,0,0,1,-61.75,0)" stroke="#0000e6" stroke-width="0.2"  textLength="63.9" lengthAdjust="spacing">Effective: 1</text>
<rect x="688.5" y="419.5" width="126" height="232.5" fill="#fff"/>
<rect x="688.5" y="502.5" width="126" height="30.5" fill="#f4d8a4"/>
<path d="M688.5,472.0 H814.5" stroke="#2a2a2a" stroke-width="1.7"/>
<path d="M688.5,502.5 H814.5" stroke="#2a2a2a" stroke-width="1.7"/>
<path d="M688.5,533.0 H814.5" stroke="#2a2a2a" stroke-width="1.7"/>
<path d="M688.5,564.5 H814.5" stroke="#2a2a2a" stroke-width="1.7"/>
<path d="M688.5,582.0 H814.5" stroke="#2a2a2a" stroke-width="1.7"/>
<path d="M688.5,599.5 H814.5" stroke="#2a2a2a" stroke-width="1.7"/>
<path d="M688.5,617.0 H814.5" stroke="#2a2a2a" stroke-width="1.7"/>
<path d="M688.5,634.5 H814.5" stroke="#2a2a2a" stroke-width="1.7"/>
<rect x="688.5" y="419.5" width="126" height="232.5" fill="none" stroke="#141414" stroke-width="1.3"/>
<text x="751.5" y="450.0" font-size="11" fill="#000" font-weight="bold" text-anchor="middle" transform="matrix(1.1,0,0,1,-75.15,0)" stroke="#000" stroke-width="0.2"  textLength="38.0" lengthAdjust="spacing">Airbag</text>
<text x="749.5" y="482.2" font-size="11" fill="#0000e6" font-weight="bold" text-anchor="middle" transform="matrix(1.1,0,0,1,-74.95,0)" stroke="#0000e6" stroke-width="0.2"  textLength="58.1" lengthAdjust="spacing">Used on 2</text>
<text x="751.5" y="495.3" font-size="11" fill="#0000e6" font-weight="bold" text-anchor="middle" transform="matrix(1.1,0,0,1,-75.15,0)" stroke="#0000e6" stroke-width="0.2"  textLength="52.7" lengthAdjust="spacing">Incidents</text>
<text x="749.5" y="513.4" font-size="11" fill="#0000e6" font-weight="bold" text-anchor="middle" transform="matrix(1.1,0,0,1,-74.95,0)" stroke="#0000e6" stroke-width="0.2"  textLength="51.3" lengthAdjust="spacing">Fail 67%</text>
<text x="751.5" y="527.7" font-size="11" fill="#0000e6" font-weight="bold" text-anchor="middle" transform="matrix(1.1,0,0,1,-75.15,0)" stroke="#0000e6" stroke-width="0.2"  textLength="43.5" lengthAdjust="spacing">(2 of 3)</text>
<text x="749.5" y="545.1" font-size="11" fill="#0000e6" font-weight="bold" text-anchor="middle" transform="matrix(1.1,0,0,1,-74.95,0)" stroke="#0000e6" stroke-width="0.2"  textLength="107.4" lengthAdjust="spacing">Used on 3 Incident</text>
<text x="751.5" y="557.6" font-size="11" fill="#0000e6" font-weight="bold" text-anchor="middle" transform="matrix(1.1,0,0,1,-75.15,0)" stroke="#0000e6" stroke-width="0.2"  textLength="46.0" lengthAdjust="spacing">Barriers</text>
<text x="751.5" y="575.5" font-size="11" fill="#0000e6" font-weight="bold" text-anchor="middle" transform="matrix(1.1,0,0,1,-75.15,0)" stroke="#0000e6" stroke-width="0.2"  textLength="48.5" lengthAdjust="spacing">Failed: 0</text>
<text x="751.5" y="592.95" font-size="11" fill="#0000e6" font-weight="bold" text-anchor="middle" transform="matrix(1.1,0,0,1,-75.15,0)" stroke="#0000e6" stroke-width="0.2"  textLength="58.5" lengthAdjust="spacing">Missing: 0</text>
<text x="751.5" y="610.4" font-size="11" fill="#0000e6" font-weight="bold" text-anchor="middle" transform="matrix(1.1,0,0,1,-75.15,0)" stroke="#0000e6" stroke-width="0.2"  textLength="77.2" lengthAdjust="spacing">Inadequate: 0</text>
<text x="751.5" y="627.85" font-size="11" fill="#0000e6" font-weight="bold" text-anchor="middle" transform="matrix(1.1,0,0,1,-75.15,0)" stroke="#0000e6" stroke-width="0.2"  textLength="71.9" lengthAdjust="spacing">Unreliable: 2</text>
<text x="751.5" y="645.3" font-size="11" fill="#0000e6" font-weight="bold" text-anchor="middle" transform="matrix(1.1,0,0,1,-75.15,0)" stroke="#0000e6" stroke-width="0.2"  textLength="63.9" lengthAdjust="spacing">Effective: 1</text>
<rect x="822.5" y="419.5" width="126" height="220.10000000000014" fill="#fff"/>
<rect x="822.5" y="490.0" width="126" height="29.700000000000045" fill="#f4a4a4"/>
<path d="M822.5,472.3 H948.5" stroke="#2a2a2a" stroke-width="1.7"/>
<path d="M822.5,490.0 H948.5" stroke="#2a2a2a" stroke-width="1.7"/>
<path d="M822.5,519.7 H948.5" stroke="#2a2a2a" stroke-width="1.7"/>
<path d="M822.5,551.6 H948.5" stroke="#2a2a2a" stroke-width="1.7"/>
<path d="M822.5,569.2 H948.5" stroke="#2a2a2a" stroke-width="1.7"/>
<path d="M822.5,586.8000000000001 H948.5" stroke="#2a2a2a" stroke-width="1.7"/>
<path d="M822.5,604.4000000000001 H948.5" stroke="#2a2a2a" stroke-width="1.7"/>
<path d="M822.5,622.0000000000001 H948.5" stroke="#2a2a2a" stroke-width="1.7"/>
<rect x="822.5" y="419.5" width="126" height="220.10000000000014" fill="none" stroke="#141414" stroke-width="1.3"/>
<text x="883.5" y="438.0" font-size="11" fill="#000" font-weight="bold" text-anchor="middle" transform="matrix(1.1,0,0,1,-88.35,0)" stroke="#000" stroke-width="0.2"  textLength="94.0" lengthAdjust="spacing">Adjust head rest</text>
<text x="883.5" y="451.1" font-size="11" fill="#000" font-weight="bold" text-anchor="middle" transform="matrix(1.1,0,0,1,-88.35,0)" stroke="#000" stroke-width="0.2"  textLength="80.7" lengthAdjust="spacing">to appropriate</text>
<text x="885.5" y="464.1" font-size="11" fill="#000" font-weight="bold" text-anchor="middle" transform="matrix(1.1,0,0,1,-88.55,0)" stroke="#000" stroke-width="0.2"  textLength="36.0" lengthAdjust="spacing">height</text>
<text x="885.5" y="483.1" font-size="11" fill="#0000e6" font-weight="bold" text-anchor="middle" transform="matrix(1.1,0,0,1,-88.55,0)" stroke="#0000e6" stroke-width="0.2"  textLength="107.4" lengthAdjust="spacing">Used on 1 Incident</text>
<text x="883.5" y="500.9" font-size="11" fill="#0000e6" font-weight="bold" text-anchor="middle" transform="matrix(1.1,0,0,1,-88.35,0)" stroke="#0000e6" stroke-width="0.2"  textLength="58.7" lengthAdjust="spacing">Fail 100%</text>
<text x="885.5" y="514.6" font-size="11" fill="#0000e6" font-weight="bold" text-anchor="middle" transform="matrix(1.1,0,0,1,-88.55,0)" stroke="#0000e6" stroke-width="0.2"  textLength="43.5" lengthAdjust="spacing">(1 of 1)</text>
<text x="883.5" y="531.7" font-size="11" fill="#0000e6" font-weight="bold" text-anchor="middle" transform="matrix(1.1,0,0,1,-88.35,0)" stroke="#0000e6" stroke-width="0.2"  textLength="107.4" lengthAdjust="spacing">Used on 1 Incident</text>
<text x="885.5" y="545.8" font-size="11" fill="#0000e6" font-weight="bold" text-anchor="middle" transform="matrix(1.1,0,0,1,-88.55,0)" stroke="#0000e6" stroke-width="0.2"  textLength="39.4" lengthAdjust="spacing">Barrier</text>
<text x="885.5" y="563.1" font-size="11" fill="#0000e6" font-weight="bold" text-anchor="middle" transform="matrix(1.1,0,0,1,-88.55,0)" stroke="#0000e6" stroke-width="0.2"  textLength="48.5" lengthAdjust="spacing">Failed: 1</text>
<text x="885.5" y="580.6" font-size="11" fill="#0000e6" font-weight="bold" text-anchor="middle" transform="matrix(1.1,0,0,1,-88.55,0)" stroke="#0000e6" stroke-width="0.2"  textLength="58.5" lengthAdjust="spacing">Missing: 0</text>
<text x="885.5" y="598.1" font-size="11" fill="#0000e6" font-weight="bold" text-anchor="middle" transform="matrix(1.1,0,0,1,-88.55,0)" stroke="#0000e6" stroke-width="0.2"  textLength="77.2" lengthAdjust="spacing">Inadequate: 0</text>
<text x="885.5" y="615.6" font-size="11" fill="#0000e6" font-weight="bold" text-anchor="middle" transform="matrix(1.1,0,0,1,-88.55,0)" stroke="#0000e6" stroke-width="0.2"  textLength="71.9" lengthAdjust="spacing">Unreliable: 0</text>
<text x="885.5" y="633.1" font-size="11" fill="#0000e6" font-weight="bold" text-anchor="middle" transform="matrix(1.1,0,0,1,-88.55,0)" stroke="#0000e6" stroke-width="0.2"  textLength="63.9" lengthAdjust="spacing">Effective: 0</text>
<rect x="1.5" y="378" width="125.5" height="178" rx="4" fill="url(#gblue)"/><rect x="2.7" y="379.2" width="123.1" height="175.6" rx="3" fill="none" stroke="#0000ff" stroke-width="1.4" opacity="0.6"/><rect x="1.5" y="378" width="125.5" height="178" rx="4" fill="none" stroke="#000070" stroke-width="1.2"/>
<rect x="5.7" y="382" width="117.3" height="152.79999999999995" fill="#fff"/>
<path d="M5.7,468.4 H123" stroke="#2a2a2a" stroke-width="1.7"/>
<path d="M5.7,499.7 H123" stroke="#2a2a2a" stroke-width="1.7"/>
<path d="M5.7,516.8 H123" stroke="#2a2a2a" stroke-width="1.7"/>
<rect x="5.7" y="382" width="117.3" height="152.79999999999995" fill="none" stroke="#141414" stroke-width="1.3"/>
<text x="62.349999999999994" y="394.2" font-size="11" fill="#000" font-weight="bold" text-anchor="middle" transform="matrix(1.1,0,0,1,-6.24,0)" stroke="#000" stroke-width="0.2"  textLength="76.7" lengthAdjust="spacing">Driver loss of</text>
<text x="62.349999999999994" y="407.2" font-size="11" fill="#000" font-weight="bold" text-anchor="middle" transform="matrix(1.1,0,0,1,-6.24,0)" stroke="#000" stroke-width="0.2"  textLength="95.4" lengthAdjust="spacing">attention (due to</text>
<text x="62.349999999999994" y="420.4" font-size="11" fill="#000" font-weight="bold" text-anchor="middle" transform="matrix(1.1,0,0,1,-6.24,0)" stroke="#000" stroke-width="0.2"  textLength="39.3" lengthAdjust="spacing">phone,</text>
<text x="62.349999999999994" y="433.6" font-size="11" fill="#000" font-weight="bold" text-anchor="middle" transform="matrix(1.1,0,0,1,-6.24,0)" stroke="#000" stroke-width="0.2"  textLength="98.0" lengthAdjust="spacing">controlling radio,</text>
<text x="62.349999999999994" y="446.8" font-size="11" fill="#000" font-weight="bold" text-anchor="middle" transform="matrix(1.1,0,0,1,-6.24,0)" stroke="#000" stroke-width="0.2"  textLength="81.3" lengthAdjust="spacing">fatigue, eating</text>
<text x="64.35" y="460" font-size="11" fill="#000" font-weight="bold" text-anchor="middle" transform="matrix(1.1,0,0,1,-6.44,0)" stroke="#000" stroke-width="0.2"  textLength="26.0" lengthAdjust="spacing">etc.)</text>
<text x="62.349999999999994" y="479.8" font-size="11" fill="#0000e6" font-weight="bold" text-anchor="middle" transform="matrix(1.1,0,0,1,-6.24,0)" stroke="#0000e6" stroke-width="0.2"  textLength="58.1" lengthAdjust="spacing">Used on 1</text>
<text x="64.35" y="492.5" font-size="11" fill="#0000e6" font-weight="bold" text-anchor="middle" transform="matrix(1.1,0,0,1,-6.44,0)" stroke="#0000e6" stroke-width="0.2"  textLength="46.0" lengthAdjust="spacing">Incident</text>
<text x="64.35" y="510.6" font-size="11" fill="#0000e6" font-weight="bold" text-anchor="middle" transform="matrix(1.1,0,0,1,-6.44,0)" stroke="#0000e6" stroke-width="0.2"  textLength="94.1" lengthAdjust="spacing">Used on 1 Event</text>
<text x="64.35" y="528.3" font-size="11" fill="#0000e6" font-weight="bold" text-anchor="middle" transform="matrix(1.1,0,0,1,-6.44,0)" stroke="#0000e6" stroke-width="0.2"  textLength="84.5" lengthAdjust="spacing">Event-Agent: 1</text>
<rect x="956.3" y="82" width="125.70000000000005" height="147" rx="4" fill="url(#gred)"/><rect x="957.5" y="83.2" width="123.30000000000004" height="144.6" rx="3" fill="none" stroke="#ff0000" stroke-width="1.4" opacity="0.6"/><rect x="956.3" y="82" width="125.70000000000005" height="147" rx="4" fill="none" stroke="#900000" stroke-width="1.2"/>
<rect x="960.4" y="86" width="117.19999999999993" height="122" fill="#fff"/>
<path d="M960.4,141.3 H1077.6" stroke="#2a2a2a" stroke-width="1.7"/>
<path d="M960.4,173.3 H1077.6" stroke="#2a2a2a" stroke-width="1.7"/>
<path d="M960.4,190.6 H1077.6" stroke="#2a2a2a" stroke-width="1.7"/>
<rect x="960.4" y="86" width="117.19999999999993" height="122" fill="none" stroke="#141414" stroke-width="1.3"/>
<text x="1017.0" y="103.6" font-size="11" fill="#000" font-weight="bold" text-anchor="middle" transform="matrix(1.1,0,0,1,-101.70,0)" stroke="#000" stroke-width="0.2"  textLength="92.7" lengthAdjust="spacing">Crash into other</text>
<text x="1017.0" y="116.4" font-size="11" fill="#000" font-weight="bold" text-anchor="middle" transform="matrix(1.1,0,0,1,-101.70,0)" stroke="#000" stroke-width="0.2"  textLength="56.0" lengthAdjust="spacing">vehicle or</text>
<text x="1019.0" y="128.9" font-size="11" fill="#000" font-weight="bold" text-anchor="middle" transform="matrix(1.1,0,0,1,-101.90,0)" stroke="#000" stroke-width="0.2"  textLength="102.0" lengthAdjust="spacing">motionless object</text>
<text x="1017.0" y="152.4" font-size="11" fill="#0000e6" font-weight="bold" text-anchor="middle" transform="matrix(1.1,0,0,1,-101.70,0)" stroke="#0000e6" stroke-width="0.2"  textLength="58.1" lengthAdjust="spacing">Used on 1</text>
<text x="1019.0" y="166" font-size="11" fill="#0000e6" font-weight="bold" text-anchor="middle" transform="matrix(1.1,0,0,1,-101.90,0)" stroke="#0000e6" stroke-width="0.2"  textLength="46.0" lengthAdjust="spacing">Incident</text>
<text x="1019.0" y="183.4" font-size="11" fill="#0000e6" font-weight="bold" text-anchor="middle" transform="matrix(1.1,0,0,1,-101.90,0)" stroke="#0000e6" stroke-width="0.2"  textLength="94.1" lengthAdjust="spacing">Used on 1 Event</text>
<text x="1019.0" y="201.4" font-size="11" fill="#0000e6" font-weight="bold" text-anchor="middle" transform="matrix(1.1,0,0,1,-101.90,0)" stroke="#0000e6" stroke-width="0.2"  textLength="84.5" lengthAdjust="spacing">Event-Agent: 1</text>
<rect x="956.3" y="376.5" width="125.70000000000005" height="160.5" rx="4" fill="url(#gred)"/><rect x="957.5" y="377.7" width="123.30000000000004" height="158.1" rx="3" fill="none" stroke="#ff0000" stroke-width="1.4" opacity="0.6"/><rect x="956.3" y="376.5" width="125.70000000000005" height="160.5" rx="4" fill="none" stroke="#900000" stroke-width="1.2"/>
<rect x="960.4" y="381" width="117.19999999999993" height="135" fill="#fff"/>
<path d="M960.4,436.6 H1077.6" stroke="#2a2a2a" stroke-width="1.7"/>
<path d="M960.4,468 H1077.6" stroke="#2a2a2a" stroke-width="1.7"/>
<path d="M960.4,485.4 H1077.6" stroke="#2a2a2a" stroke-width="1.7"/>
<rect x="960.4" y="381" width="117.19999999999993" height="135" fill="none" stroke="#141414" stroke-width="1.3"/>
<text x="1017.0" y="398.3" font-size="11" fill="#000" font-weight="bold" text-anchor="middle" transform="matrix(1.1,0,0,1,-101.70,0)" stroke="#000" stroke-width="0.2"  textLength="83.4" lengthAdjust="spacing">Driver impacts</text>
<text x="1017.0" y="411.4" font-size="11" fill="#000" font-weight="bold" text-anchor="middle" transform="matrix(1.1,0,0,1,-101.70,0)" stroke="#000" stroke-width="0.2"  textLength="58.0" lengthAdjust="spacing">internal of</text>
<text x="1019.0" y="424.4" font-size="11" fill="#000" font-weight="bold" text-anchor="middle" transform="matrix(1.1,0,0,1,-101.90,0)" stroke="#000" stroke-width="0.2"  textLength="40.7" lengthAdjust="spacing">vehicle</text>
<text x="1017.0" y="448.4" font-size="11" fill="#0000e6" font-weight="bold" text-anchor="middle" transform="matrix(1.1,0,0,1,-101.70,0)" stroke="#0000e6" stroke-width="0.2"  textLength="58.1" lengthAdjust="spacing">Used on 1</text>
<text x="1019.0" y="460.6" font-size="11" fill="#0000e6" font-weight="bold" text-anchor="middle" transform="matrix(1.1,0,0,1,-101.90,0)" stroke="#0000e6" stroke-width="0.2"  textLength="46.0" lengthAdjust="spacing">Incident</text>
<text x="1019.0" y="478.9" font-size="11" fill="#0000e6" font-weight="bold" text-anchor="middle" transform="matrix(1.1,0,0,1,-101.90,0)" stroke="#0000e6" stroke-width="0.2"  textLength="94.1" lengthAdjust="spacing">Used on 1 Event</text>
<text x="1017.0" y="497.1" font-size="11" fill="#0000e6" font-weight="bold" text-anchor="middle" transform="matrix(1.1,0,0,1,-101.70,0)" stroke="#0000e6" stroke-width="0.2"  textLength="94.7" lengthAdjust="spacing">Potential but not</text>
<text x="1019.0" y="509.3" font-size="11" fill="#0000e6" font-weight="bold" text-anchor="middle" transform="matrix(1.1,0,0,1,-101.90,0)" stroke="#0000e6" stroke-width="0.2"  textLength="59.9" lengthAdjust="spacing">reached: 1</text>
<rect x="988.2" y="211.7" width="14.9" height="14.5" fill="#dc0000"/>
<text x="995.6500000000001" y="222.2" font-size="9" fill="#2a1a00" text-anchor="middle" font-weight="normal">D4</text>
<rect x="1003.1" y="211.7" width="14.9" height="14.5" fill="#e86c00"/>
<text x="1010.5500000000001" y="222.2" font-size="9" fill="#2a1a00" text-anchor="middle" font-weight="normal">D2</text>
<rect x="1018.0" y="211.7" width="14.9" height="14.5" fill="#00dc00"/>
<text x="1025.45" y="222.2" font-size="9" fill="#2a1a00" text-anchor="middle" font-weight="normal">A0</text>
<rect x="1032.9" y="211.7" width="14.9" height="14.5" fill="#f0ec00"/>
<text x="1040.3500000000001" y="222.2" font-size="9" fill="#2a1a00" text-anchor="middle" font-weight="normal">D1</text>
<rect x="988.2" y="520.2" width="14.9" height="14.5" fill="#dc0000"/>
<text x="995.6500000000001" y="530.7" font-size="9" fill="#2a1a00" text-anchor="middle" font-weight="normal">D4</text>
<rect x="1003.1" y="520.2" width="14.9" height="14.5" fill="#f0ec00"/>
<text x="1010.5500000000001" y="530.7" font-size="9" fill="#2a1a00" text-anchor="middle" font-weight="normal">D1</text>
<rect x="1018.0" y="520.2" width="14.9" height="14.5" fill="#00dc00"/>
<text x="1025.45" y="530.7" font-size="9" fill="#2a1a00" text-anchor="middle" font-weight="normal">A0</text>
<rect x="1032.9" y="520.2" width="14.9" height="14.5" fill="#f0ec00"/>
<text x="1040.3500000000001" y="530.7" font-size="9" fill="#2a1a00" text-anchor="middle" font-weight="normal">D1</text>
<rect x="344.5" y="128" width="126" height="165" fill="url(#stripes)" stroke="#000" stroke-width="2"/>
<rect x="349.3" y="132.5" width="117.19999999999999" height="138.89999999999998" fill="#fff"/>
<path d="M349.3,187.6 H466.5" stroke="#2a2a2a" stroke-width="1.7"/>
<path d="M349.3,218.6 H466.5" stroke="#2a2a2a" stroke-width="1.7"/>
<path d="M349.3,236 H466.5" stroke="#2a2a2a" stroke-width="1.7"/>
<path d="M349.3,253.8 H466.5" stroke="#2a2a2a" stroke-width="1.7"/>
<rect x="349.3" y="132.5" width="117.19999999999999" height="138.89999999999998" fill="none" stroke="#141414" stroke-width="1.3"/>
<text x="355.5" y="156.5" font-size="11" fill="#000" font-weight="bold" text-anchor="start" transform="matrix(1.1,0,0,1,-35.55,0)" stroke="#000" stroke-width="0.2"  textLength="30.0" lengthAdjust="spacing">Road</text>
<text x="407.9" y="170" font-size="11" fill="#000" font-weight="bold" text-anchor="middle" transform="matrix(1.1,0,0,1,-40.79,0)" stroke="#000" stroke-width="0.2"  textLength="50.7" lengthAdjust="spacing">a vehicle</text>
<text x="405.9" y="199.2" font-size="11" fill="#0000e6" font-weight="bold" text-anchor="middle" transform="matrix(1.1,0,0,1,-40.59,0)" stroke="#0000e6" stroke-width="0.2"  textLength="58.1" lengthAdjust="spacing">Used on 4</text>
<text x="407.9" y="212.6" font-size="11" fill="#0000e6" font-weight="bold" text-anchor="middle" transform="matrix(1.1,0,0,1,-40.79,0)" stroke="#0000e6" stroke-width="0.2"  textLength="52.7" lengthAdjust="spacing">Incidents</text>
<text x="407.9" y="230.9" font-size="11" fill="#0000e6" font-weight="bold" text-anchor="middle" transform="matrix(1.1,0,0,1,-40.79,0)" stroke="#0000e6" stroke-width="0.2"  textLength="100.8" lengthAdjust="spacing">Used on 4 Events</text>
<text x="407.9" y="248.2" font-size="11" fill="#0000e6" font-weight="bold" text-anchor="middle" transform="matrix(1.1,0,0,1,-40.79,0)" stroke="#0000e6" stroke-width="0.2"  textLength="84.5" lengthAdjust="spacing">Event-Agent: 3</text>
<text x="407.9" y="265.8" font-size="11" fill="#0000e6" font-weight="bold" text-anchor="middle" transform="matrix(1.1,0,0,1,-40.79,0)" stroke="#0000e6" stroke-width="0.2"  textLength="69.6" lengthAdjust="spacing">Top event: 1</text>
<circle cx="407.6" cy="397.6" r="63" fill="url(#gte)"/>
<rect x="363.5" y="353.5" width="88" height="88" fill="#fff" stroke="#2a2a2a" stroke-width="1.3"/>
<text x="407.5" y="387" font-size="11" fill="#000" font-weight="bold" text-anchor="middle" transform="matrix(1.1,0,0,1,-40.75,0)" stroke="#000" stroke-width="0.2"  textLength="39.3" lengthAdjust="spacing">Losing</text>
<text x="407.5" y="400.5" font-size="11" fill="#000" font-weight="bold" text-anchor="middle" transform="matrix(1.1,0,0,1,-40.75,0)" stroke="#000" stroke-width="0.2"  textLength="69.4" lengthAdjust="spacing">control over</text>
<text x="407.5" y="413.8" font-size="11" fill="#000" font-weight="bold" text-anchor="middle" transform="matrix(1.1,0,0,1,-40.75,0)" stroke="#000" stroke-width="0.2"  textLength="62.0" lengthAdjust="spacing">the vehicle</text>
<circle cx="344.8" cy="397.5" r="6" fill="#fff" stroke="#777" stroke-width="1.2"/><path d="M341.6,397.5 H348.0" stroke="#333" stroke-width="1.3"/>
<circle cx="470.4" cy="397.5" r="6" fill="#fff" stroke="#777" stroke-width="1.2"/><path d="M467.2,397.5 H473.59999999999997" stroke="#333" stroke-width="1.3"/>
<circle cx="127" cy="398.5" r="6" fill="#fff" stroke="#777" stroke-width="1.2"/><path d="M123.8,398.5 H130.2" stroke="#333" stroke-width="1.3"/>
<circle cx="956.3" cy="103.6" r="6" fill="#fff" stroke="#777" stroke-width="1.2"/><path d="M953.0999999999999,103.6 H959.5" stroke="#333" stroke-width="1.3"/>
<circle cx="956.3" cy="398.3" r="6" fill="#fff" stroke="#777" stroke-width="1.2"/><path d="M953.0999999999999,398.3 H959.5" stroke="#333" stroke-width="1.3"/></svg>

<div class="abs" style="left:363px;top:37px;width:222px;height:128.5px;background:#fbfbfb;border:1px solid #9a9a9a;box-sizing:border-box;box-shadow:3px 3px 4px rgba(0,0,0,0.38)"></div>
<div class="abs" style="left:364px;top:36px;width:83px;height:3px;background:#fbfbfb"></div>
<div class="cb" style="top:43.5px"></div><div class="abs t15" style="left:391px;top:42px">Advanced Filter</div>
<div class="cb" style="top:69px"></div><div class="abs t15" style="left:391px;top:68px">Selective Visibility Filter</div>
<div class="cb" style="top:95px;border-color:#2a7ad8"></div><svg class="abs" style="left:372px;top:96px" width="14" height="14"><path d="M2.5,7 L5.5,10.2 L11.5,3.5" fill="none" stroke="#2a7ad8" stroke-width="1.3"/></svg><div class="abs t15" style="left:391px;top:94px">Incident Filter</div>
<div class="cb" style="top:120.5px"></div><div class="abs t15" style="left:391px;top:120px">Audit filter</div>
<div class="cb" style="top:145px"></div><div class="abs t15" style="left:391px;top:144px;letter-spacing:-0.1px">Performance&nbsp; Filte</div>
<svg class="abs" style="left:433px;top:92px" width="14" height="20">
 <path d="M1,1 V15 L4.5,11.5 L7,17 L9.5,16 L7,10.5 L11.5,10.5 Z" fill="#fff" stroke="#000" stroke-width="1"/>
</svg>

</body></html>
